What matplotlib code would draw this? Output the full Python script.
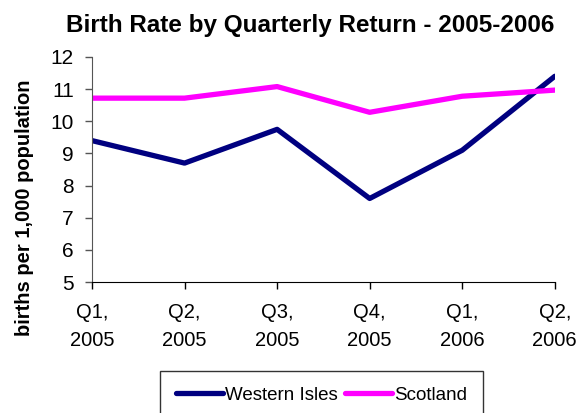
import matplotlib as mpl
mpl.use('Agg')
import matplotlib.pyplot as plt

# data
quarters = ['Q1,\n2005', 'Q2,\n2005', 'Q3,\n2005', 'Q4,\n2005', 'Q1,\n2006', 'Q2,\n2006']
western_isles = [9.4, 8.7, 9.75, 7.6, 9.1, 11.4]
scotland = [10.72, 10.72, 11.08, 10.28, 10.78, 10.97]

plt.rcParams['font.family'] = ['Liberation Sans', 'DejaVu Sans']

fig = plt.figure(figsize=(5.84, 4.13), dpi=100)
ax = fig.add_axes([0.1575, 0.317, 0.7925, 0.545])

x = range(len(quarters))
ax.plot(x, western_isles, color='#000080', linewidth=3.8, label='Western Isles', solid_capstyle='round')
ax.plot(x, scotland, color='#FF00FF', linewidth=3.8, label='Scotland', solid_capstyle='round')

ax.set_xlim(0, len(quarters) - 1)
ax.set_ylim(5, 12)
ax.set_yticks(range(5, 13))
ax.set_xticks(list(x))
ax.set_xticklabels(quarters, linespacing=1.6)

ax.spines['top'].set_visible(False)
ax.spines['right'].set_visible(False)
ax.spines['left'].set_color('#555555')
ax.spines['bottom'].set_color('black')
ax.tick_params(axis='y', direction='out', length=5, width=1, color='#555555', labelsize=15, pad=8)
ax.tick_params(axis='x', direction='out', length=5, width=1, labelsize=14.5, pad=10)

# title sits a bit left of the plot centre, like the original
fig.text(0.531, 0.9225, 'Birth Rate by Quarterly Return - 2005-2006', fontsize=17.5,
         fontweight='bold', ha='center', va='baseline')
ax.set_ylabel('births per 1,000 population', fontsize=14.5, fontweight='bold')
ax.yaxis.set_label_coords(-0.125, 0.33)

leg = ax.legend(loc='upper left', bbox_to_anchor=(0.274, 0.1017), bbox_transform=fig.transFigure,
                ncol=2, fontsize=13.5, frameon=True, fancybox=False, edgecolor='black',
                handlelength=2.5, handletextpad=0.1, columnspacing=0.4, borderpad=0.85,
                borderaxespad=0)
leg.get_frame().set_linewidth(1.0)

fig.savefig('out.png', dpi=100)
